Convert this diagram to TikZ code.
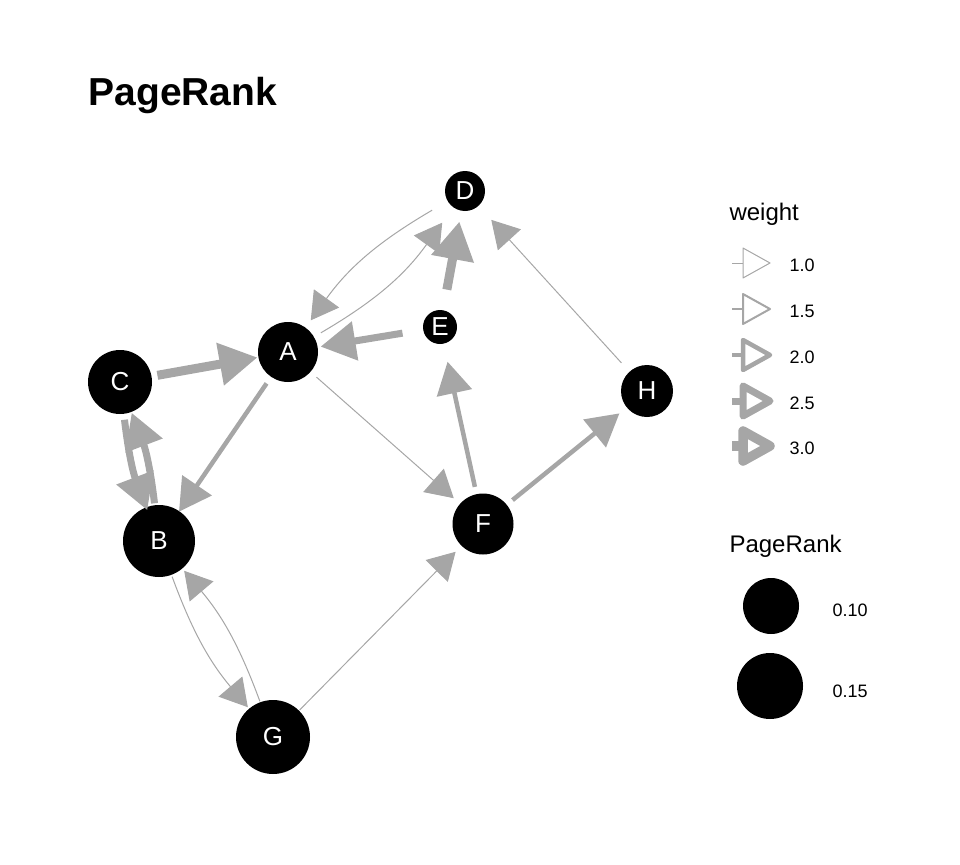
\documentclass[tikz,border=0pt]{standalone}
\usepackage{fontspec}
\setmainfont{Liberation Sans}
\usetikzlibrary{arrows.meta}
\definecolor{eg}{RGB}{166,166,166}
\begin{document}
\begin{tikzpicture}[x=1pt,y=-1pt,
  vtx/.style={circle, fill=black, inner sep=0pt, text=white, font=\fontsize{26}{30}\selectfont},
  e1/.style={draw=eg, line width=1pt, -{Triangle[length=27pt,width=31pt]}, shorten >=1pt},
  e2/.style={draw=eg, line width=4.5pt, -{Triangle[length=32pt,width=35pt]}, shorten >=-2.5pt},
  e25/.style={draw=eg, line width=7pt, -{Triangle[length=35pt,width=38pt]}, shorten >=-5pt},
  e3/.style={draw=eg, line width=9pt, -{Triangle[length=38pt,width=41pt]}, shorten >=-7pt},
  ltitle/.style={anchor=base west, font=\fontsize{24}{28}\selectfont},
  ltext/.style={anchor=base west, font=\fontsize{18}{22}\selectfont},
  key/.style={draw=eg, line join=round},
  dot/.style={circle, fill=black, inner sep=0pt}
]
\useasboundingbox (0,0) rectangle (960,864);
% title
\node[anchor=base west, font=\bfseries\fontsize{39}{47}\selectfont] (title) at (85,106) {PageRank};
% vertices
\node[vtx, minimum size=40pt, outer sep=18pt] (D) at (465,191) {D};
\node[vtx, minimum size=60pt, outer sep=8pt] (A) at (288,352) {A};
\node[vtx, minimum size=64pt, outer sep=6pt] (C) at (120,382) {C};
\node[vtx, minimum size=72pt, outer sep=2pt] (B) at (159,541) {B};
\node[vtx, minimum size=34pt, outer sep=21pt] (E) at (440,327) {E};
\node[vtx, minimum size=74pt, outer sep=1pt] (G) at (273,737) {G};
\node[vtx, minimum size=61pt, outer sep=7.5pt] (F) at (483,524) {F};
\node[vtx, minimum size=52pt, outer sep=12pt] (H) at (647,391) {H};
% edges
\draw[e3] (C) -- (A);
\draw[e3] (E) -- (D);
\draw[e25] (E) -- (A);
\draw[e25] (C) to[bend right=7] (B);
\draw[e25] (B) to[bend right=7] (C);
\draw[e2] (A) -- (B);
\draw[e2] (F) -- (E);
\draw[e2] (F) -- (H);
\draw[e1] (D) to[bend right=12] (A);
\draw[e1] (A) to[bend right=12] (D);
\draw[e1] (H) -- (D);
\draw[e1] (A) -- (F);
\draw[e1] (G) -- (F);
\draw[e1] (B) to[bend right=10] (G);
\draw[e1] (G) to[bend right=10] (B);
% weight legend
\node[ltitle] (wt) at (726,220) {weight};
\foreach \yy/\lw/\lab in {263/1/1.0, 309/2/1.5, 355/4.5/2.0, 401/7/2.5, 446/9.5/3.0}{
  \draw[key, line width=\lw pt] (732,\yy) -- (743,\yy);
  \draw[key, line width=\lw pt] (743,\yy-15) -- (770,\yy) -- (743,\yy+15) -- cycle;
  \node[ltext] at (786,\yy+8) {\lab};
}
% PageRank legend
\node[ltitle] (pr) at (726,552) {PageRank};
\node[dot, minimum size=56pt] (s1) at (771,606) {};
\node[dot, minimum size=66pt] (s2) at (770,686) {};
\node[ltext] (l1) at (829,616) {0.10};
\node[ltext] (l2) at (829,697) {0.15};
\end{tikzpicture}
\end{document}
